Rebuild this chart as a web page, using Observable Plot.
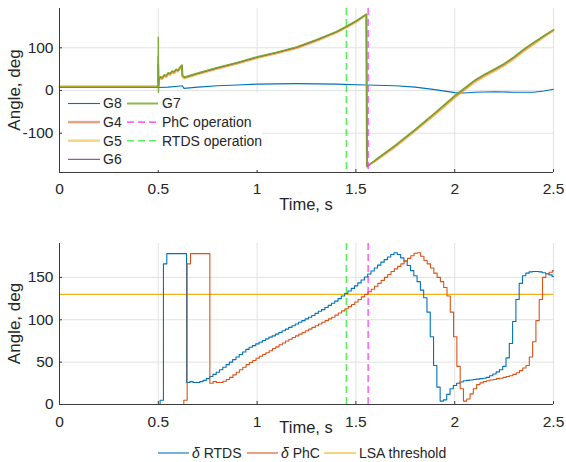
<!DOCTYPE html>
<html>
<head>
<meta charset="utf-8">
<script src="https://cdn.jsdelivr.net/npm/d3@7"></script>
<script src="https://cdn.jsdelivr.net/npm/@observablehq/plot@0.6"></script>
<style>
html,body{margin:0;padding:0;background:#fff;}
#wrap{position:relative;width:566px;height:462px;overflow:hidden;background:#fff;}
#wrap svg{position:absolute;left:0;}
</style>
</head>
<body>
<div id="wrap"></div>
<script>
// ---------- shared axes ----------
const xTicks = [0, 0.5, 1, 1.5, 2, 2.5];
const yTicksTop = [-100, 0, 100];
const yTicksBot = [0, 50, 100, 150];
const yDomainTop = [-192, 192];
const yDomainBot = [0, 190];
const xLabel = "Time, s";
const yLabel = "Angle, deg";
const rtdsOperation = 1.452;
const phcOperation = 1.562;
const lsaThreshold = 130;

// ---------- top panel: generator angles ----------
const tG = [0, 0.4995, 0.5, 0.501, 0.503, 0.51, 0.52, 0.53, 0.54, 0.55, 0.56, 0.57, 0.58, 0.59, 0.60, 0.61, 0.62, 0.622, 0.63, 0.65,
  0.7, 0.8, 0.9, 1.0, 1.1, 1.2, 1.3, 1.4, 1.45, 1.5, 1.553, 1.556, 1.6, 1.7, 1.8, 1.9, 2.0, 2.1, 2.15, 2.2, 2.25, 2.3, 2.35, 2.4, 2.45, 2.5];
const g4 = [9, 9, 60, 10, 24, 31, 28, 35, 33, 40, 38, 44, 42, 48, 46, 53, 58, 34, 30, 32,
  39, 52, 64, 77, 88, 100, 117, 136, 148, 161, 178, -178, -164, -130, -93, -55, -15, 21, 35, 47, 60, 76, 94, 110, 126, 141];
const g5 = [10, 10, 50, 11, 22, 29, 27, 33, 31, 38, 36, 42, 40, 46, 44, 51, 56, 32, 28, 31,
  38, 51, 63, 76, 87, 99, 116, 135, 147, 160, 177, -177, -165, -132, -95, -57, -17, 19, 33, 45, 58, 74, 92, 108, 125, 140];
const g6 = [7, 7, 80, 8, 25, 32, 29, 36, 34, 41, 39, 45, 43, 49, 47, 54, 59, 35, 31, 33,
  40, 53, 65, 78, 89, 101, 118, 137, 149, 162, 178, -178, -163, -129, -92, -53, -13, 23, 37, 49, 62, 78, 96, 112, 127, 142];
const g7 = [8, 8, 125, -4, 26, 33, 30, 37, 35, 42, 40, 46, 44, 50, 48, 55, 60, 36, 32, 34,
  41, 54, 66, 79, 90, 102, 119, 138, 150, 163, 179, -178, -162, -128, -91, -52, -12, 24, 38, 50, 63, 79, 97, 113, 128, 142];
const tG8 = [0, 0.5, 0.55, 0.6, 0.622, 0.63, 0.7, 0.8, 0.9, 1.0, 1.2, 1.4, 1.55, 1.7, 1.8, 1.9, 2.0, 2.05, 2.1, 2.2, 2.3, 2.4, 2.45, 2.5];
const g8 = [7, 7, 8, 10, 11, 5, 8, 11, 13, 15, 16, 15, 13, 11, 8, 2, -5, -6, -4, -3, -4, -4, -1, 3];

const topNames = ["G8", "G4", "G5", "G6", "G7", "PhC operation", "RTDS operation"];
const topColors = ["#0072BD", "#D95319", "#EDB120", "#7E2F8E", "#77AC30", "#ff33ff", "#22ee22"];

// ---------- bottom panel: delta (stepped, 60 Hz update) ----------
const sampleStep = 1 / 60;
const tRstart = [0, 0.509, 0.526, 0.543];
const dRstart = [0, 5, 166, 178];
const tRrampStart = 0.643;
const dRramp = [26, 27, 26, 26, 27, 28.5, 30.5, 33, 35.5, 38, 41, 44, 47, 50, 53, 56, 59, 62, 65, 67.5,
  69.5, 71.5, 73.5, 75.5, 77.5, 79.5, 81, 83, 85, 87, 89, 91, 93, 95, 97, 99, 101, 103, 105, 107.5,
  110, 112, 114.5, 117, 119.5, 122, 125, 128, 131, 134, 137, 140, 143.5, 147, 150.5, 154, 157.5, 161, 164.5, 168,
  171, 174, 177, 179, 177, 173, 169, 164, 158, 152, 145, 135, 126, 109, 80, 46, 20.5, 4, 5.5, 12,
  18.5, 22.5, 25, 26.5, 28, 28.5, 29, 29.5, 30, 30.5, 31, 32, 34, 36, 38.5, 41, 45, 55, 72, 98,
  124, 143, 152, 155, 156.5, 157, 157, 156.5, 155.5, 154.5, 153, 151];

const tPstart = [0, 0.629, 0.646, 0.663];
const dPstart = [0, 5, 166, 178];
const tPrampStart = 0.761;
const dPramp = [25, 27, 26, 26, 27.5, 29.5, 32, 35, 38, 41, 44, 47, 49.5, 52, 54.5, 57, 59, 61, 63.5, 66,
  68, 70.5, 72.5, 75, 77, 79, 81, 83, 85, 87, 89, 91, 93, 95, 97, 99, 101, 103, 105.5, 108,
  110.5, 113, 115.5, 118, 121, 124, 127, 130, 133, 136, 139.5, 143, 146.5, 150, 153.5, 157, 160, 163, 166, 169.5,
  172.5, 175.5, 178.5, 179, 175, 170, 166, 161, 155, 150, 145, 138, 128, 109, 80, 45, 18.5, 4, 6.5, 12.5,
  18.5, 23.5, 25.5, 27, 28, 29, 29.5, 30.5, 31, 32, 33, 34, 35.5, 37.5, 40, 43, 46, 56, 74, 99,
  124, 150, 154.5, 156, 158];

const botNames = ["RTDS", "PhC", "LSA threshold"];
const botColors = ["#0072BD", "#D95319", "#EDB120"];

// ---------- build stepped series ----------
const tR = tRstart.concat(dRramp.map((_, k) => tRrampStart + k * sampleStep), [2.5]);
const dR = dRstart.concat(dRramp, [dRramp[dRramp.length - 1]]);
const tP = tPstart.concat(dPramp.map((_, k) => tPrampStart + k * sampleStep), [2.5]);
const dP = dPstart.concat(dPramp, [dPramp[dPramp.length - 1]]);

// ---------- styling ----------
const FONT = '"Liberation Sans", Arial, Helvetica, sans-serif';
const TEXT = "#262626";
const GRID = "#e2e2e2";
const AXIS = "#3c3c3c";
const W = 566, ML = 59, MR = 13;
const PW = W - ML - MR;
const TICK_FS = 15.5;

function frame(yTicks, yDomain, plotH, tickPad) {
  return {
    under: [
      Plot.gridX(xTicks.slice(1), {stroke: GRID, strokeOpacity: 1}),
      Plot.gridY(yTicks, {stroke: GRID, strokeOpacity: 1}),
      Plot.axisX({ticks: xTicks, tickSize: 0, tickPadding: tickPad, tickFormat: d => String(d), label: null,
        fill: TEXT, fontSize: TICK_FS}),
      Plot.axisY({ticks: yTicks, tickSize: 0, tickPadding: 6, tickFormat: d => String(d), label: null,
        fill: TEXT, fontSize: TICK_FS})
    ],
    over: [
      Plot.ruleX([xTicks[0]], {stroke: AXIS, strokeWidth: 1}),
      Plot.ruleY([yDomain[0]], {stroke: AXIS, strokeWidth: 1}),
      Plot.tickX(xTicks, {x: d => d, insetTop: plotH - 3, stroke: AXIS}),
      Plot.tickY(yTicks, {y: d => d, insetRight: PW - 3, stroke: AXIS})
    ]
  };
}

const TOPH = 225, TOP_MT = 8, TOP_MB = 53;
const fTop = frame(yTicksTop, yDomainTop, TOPH - TOP_MT - TOP_MB, 10);
const topPlot = Plot.plot({
  width: W, height: TOPH, marginLeft: ML, marginRight: MR, marginTop: TOP_MT, marginBottom: TOP_MB,
  style: {fontFamily: FONT, fontSize: TICK_FS + "px", color: TEXT, background: "transparent", overflow: "visible"},
  x: {domain: [0, 2.5]},
  y: {domain: yDomainTop},
  marks: [
    ...fTop.under,
    Plot.line(g8, {x: tG8, y: g8, stroke: topColors[0], strokeWidth: 1.1}),
    Plot.line(g4, {x: tG, y: g4, stroke: topColors[1], strokeWidth: 2, strokeOpacity: 0.6}),
    Plot.line(g5, {x: tG, y: g5, stroke: topColors[2], strokeWidth: 2, strokeOpacity: 0.6}),
    Plot.line(g6, {x: tG, y: g6, stroke: topColors[3], strokeWidth: 1}),
    Plot.line(g7, {x: tG, y: g7, stroke: topColors[4], strokeWidth: 1.4, strokeOpacity: 0.95}),
    Plot.ruleX([phcOperation], {stroke: topColors[5], strokeWidth: 1.6, strokeOpacity: 0.75, strokeDasharray: "7,4"}),
    Plot.ruleX([rtdsOperation], {stroke: topColors[6], strokeWidth: 1.6, strokeOpacity: 0.75, strokeDasharray: "7,4"}),
    ...fTop.over
  ]
});
topPlot.style.top = "0px";
document.getElementById("wrap").appendChild(topPlot);

const BOTH = 215, BOT_MT = 18, BOT_MB = 36;
const fBot = frame(yTicksBot, yDomainBot, BOTH - BOT_MT - BOT_MB, 11.5);
const botPlot = Plot.plot({
  width: W, height: BOTH, marginLeft: ML, marginRight: MR, marginTop: BOT_MT, marginBottom: BOT_MB,
  style: {fontFamily: FONT, fontSize: TICK_FS + "px", color: TEXT, background: "transparent", overflow: "visible"},
  x: {domain: [0, 2.5]},
  y: {domain: yDomainBot},
  marks: [
    ...fBot.under,
    Plot.ruleX([rtdsOperation], {stroke: topColors[6], strokeWidth: 1.6, strokeOpacity: 0.75, strokeDasharray: "7,4"}),
    Plot.ruleX([phcOperation], {stroke: topColors[5], strokeWidth: 1.6, strokeOpacity: 0.75, strokeDasharray: "7,4"}),
    Plot.ruleY([lsaThreshold], {stroke: botColors[2], strokeWidth: 1.1}),
    Plot.line(dR, {x: tR, y: dR, curve: "step-after", stroke: botColors[0], strokeWidth: 1.1}),
    Plot.line(dP, {x: tP, y: dP, curve: "step-after", stroke: botColors[1], strokeWidth: 1.1}),
    ...fBot.over
  ]
});
botPlot.style.top = TOPH + "px";
document.getElementById("wrap").appendChild(botPlot);

// ---------- overlay: axis titles and legends ----------
const leg = d3.select("#wrap").append("svg")
  .attr("width", W).attr("height", 462)
  .style("top", "0px").style("pointer-events", "none")
  .style("font-family", FONT).style("fill", TEXT);

// axis titles
const CX = ML + PW / 2;
[[210, 8, 172], [432.6, 243, 404]].forEach(([xBase, fTopY, fBotY]) => {
  leg.append("text").attr("x", CX).attr("y", xBase).attr("text-anchor", "middle")
    .style("font-size", "16.5px").text(xLabel);
  leg.append("text").attr("text-anchor", "middle").style("font-size", "17px")
    .attr("transform", `translate(19.5,${(fTopY + fBotY) / 2}) rotate(-90)`).text(yLabel);
});

// top legend (inside axes, white background, no border)
leg.append("rect").attr("x", 62).attr("y", 93).attr("width", 200).attr("height", 77).attr("fill", "#fff");
const topStyles = [
  {w: 1.1, o: 1}, {w: 2.5, o: 0.55}, {w: 2.5, o: 0.55}, {w: 1, o: 1}, {w: 2, o: 0.85},
  {w: 1.6, o: 0.75, dash: "7,4"}, {w: 1.6, o: 0.75, dash: "7,4"}
];
const topPos = [[0, 0], [0, 1], [0, 2], [0, 3], [1, 0], [1, 1], [1, 2]];
const colX = [[68, 100, 103], [127, 158, 162]];
topNames.forEach((name, i) => {
  const [c, r] = topPos[i];
  const y = 103.5 + r * 18.6;
  leg.append("line").attr("x1", colX[c][0]).attr("x2", colX[c][1]).attr("y1", y).attr("y2", y)
    .attr("stroke", topColors[i]).attr("stroke-width", topStyles[i].w).attr("stroke-opacity", topStyles[i].o)
    .attr("stroke-dasharray", topStyles[i].dash || null);
  leg.append("text").attr("x", colX[c][2]).attr("y", y).attr("dy", "0.35em").style("font-size", "14px").text(name);
});

// bottom legend
const botLeg = [[158, 189, 192], [247, 278, 281], [324, 356, 359]];
botNames.forEach((name, i) => {
  const y = 453;
  leg.append("line").attr("x1", botLeg[i][0]).attr("x2", botLeg[i][1]).attr("y1", y).attr("y2", y)
    .attr("stroke", botColors[i]).attr("stroke-width", 1.1);
  const t = leg.append("text").attr("x", botLeg[i][2]).attr("y", y).attr("dy", "0.35em").style("font-size", "14px");
  if (i < 2) {
    t.append("tspan").attr("font-style", "italic").text("δ");
    t.append("tspan").text(" " + name);
  } else {
    t.text(name);
  }
});
</script>
</body>
</html>
